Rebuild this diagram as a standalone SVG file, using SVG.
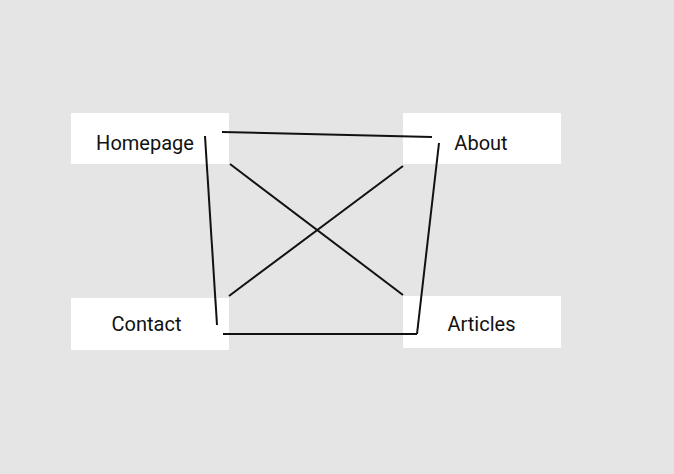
<svg xmlns="http://www.w3.org/2000/svg" width="674" height="474" viewBox="0 0 674 474">
  <style>
    .box { fill: #ffffff; }
    .label { font-family: Roboto, "Liberation Sans", sans-serif; font-size: 20px; fill: #111111; text-anchor: middle; }
    .edge { stroke: #111111; stroke-width: 2; fill: none; stroke-linecap: butt; }
  </style>
  <rect x="0" y="0" width="674" height="474" fill="#e5e5e5"/>

  <g id="homepage">
    <rect class="box" x="71" y="113" width="158" height="51"/>
    <text class="label" x="145" y="149.5">Homepage</text>
  </g>
  <g id="about">
    <rect class="box" x="403" y="113" width="158" height="51"/>
    <text class="label" x="481" y="149.5">About</text>
  </g>
  <g id="contact">
    <rect class="box" x="71" y="298" width="158" height="52"/>
    <text class="label" x="146.5" y="330.5">Contact</text>
  </g>
  <g id="articles">
    <rect class="box" x="403" y="296" width="158" height="52"/>
    <text class="label" x="481.5" y="330.5">Articles</text>
  </g>

  <g id="connectors">
    <line class="edge" x1="222" y1="132" x2="432" y2="137"/>
    <line class="edge" x1="205" y1="136" x2="217" y2="325"/>
    <line class="edge" x1="230" y1="164" x2="403" y2="295"/>
    <line class="edge" x1="403" y1="166" x2="229" y2="296"/>
    <line class="edge" x1="439" y1="143" x2="417" y2="334"/>
    <line class="edge" x1="223" y1="334" x2="417" y2="334"/>
  </g>
</svg>
